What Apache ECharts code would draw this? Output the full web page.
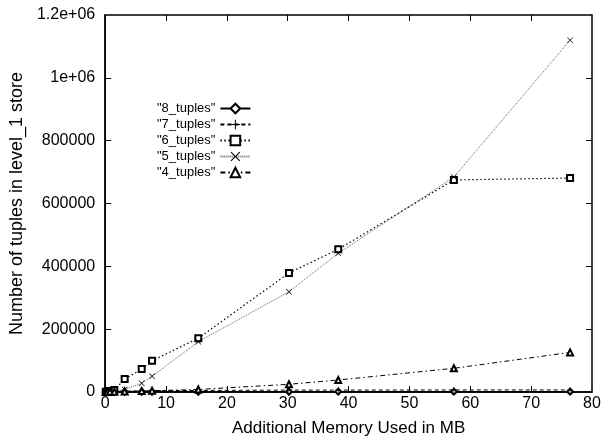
<!DOCTYPE html>
<html>
<head>
<meta charset="utf-8">
<script src="https://cdn.jsdelivr.net/npm/echarts@6/dist/echarts.min.js"></script>
<style>
html,body{margin:0;padding:0;background:#fff;}
#chart{width:609px;height:442px;}
</style>
</head>
<body>
<div id="chart"></div>
<script>
// Data
const memoryMB = [0.1, 0.2, 0.4, 0.8, 1.5, 3.2, 6.0, 7.7, 15.3, 30.2, 38.3, 57.3, 76.4];
const tuples8 = [50, 100, 200, 300, 400, 500, 600, 700, 800, 900, 1000, 1000, 1000];
const tuples7 = [100, 200, 400, 800, 1500, 2500, 3500, 4000, 5000, 6000, 6000, 6500, 6500];
const tuples6 = [300, 700, 1500, 3000, 6000, 41000, 73000, 99500, 171000, 379000, 454000, 675000, 681000];
const tuples5 = [200, 400, 800, 1500, 3000, 8000, 27700, 50000, 160000, 319000, 441500, 684000, 1120000];
const tuples4 = [100, 200, 300, 500, 800, 1500, 3000, 4000, 8000, 24500, 38200, 75400, 126000];
const seriesNames = ['"8_tuples"', '"7_tuples"', '"6_tuples"', '"5_tuples"', '"4_tuples"'];
const xTicks = [0, 10, 20, 30, 40, 50, 60, 70, 80];
const yTicks = [0, 200000, 400000, 600000, 800000, 1000000, 1200000];
const yTickLabels = ['0', '200000', '400000', '600000', '800000', '1e+06', '1.2e+06'];

const pairs = ys => memoryMB.map((x, i) => [x, ys[i]]);

const FONT = 'Liberation Sans';
const plusPath = 'path://M4.5,0H5.5V4.5H10V5.5H5.5V10H4.5V5.5H0V4.5H4.5Z';
const crossPath = 'path://M0,0.8L0.8,0L5,4.2L9.2,0L10,0.8L5.8,5L10,9.2L9.2,10L5,5.8L0.8,10L0,9.2L4.2,5Z';

const GRID = {left: 104, right: 17, top: 15, bottom: 50};
const W = 609, H = 442, TICK_PX = 6;
const X_MIN = xTicks[0], X_MAX = xTicks[xTicks.length - 1];
const Y_MIN = yTicks[0], Y_MAX = yTicks[yTicks.length - 1];
const tickDX = TICK_PX / (W - GRID.left - GRID.right) * (X_MAX - X_MIN);
const tickDY = TICK_PX / (H - GRID.top - GRID.bottom) * (Y_MAX - Y_MIN);

// inward tick marks on all four sides of the frame (gnuplot style)
const tickSegments = [];
xTicks.slice(1, -1).forEach(v => {
  tickSegments.push([{coord: [v, Y_MIN]}, {coord: [v, Y_MIN + tickDY]}]);
  tickSegments.push([{coord: [v, Y_MAX]}, {coord: [v, Y_MAX - tickDY]}]);
});
yTicks.slice(1, -1).forEach(v => {
  tickSegments.push([{coord: [X_MIN, v]}, {coord: [X_MIN + tickDX, v]}]);
  tickSegments.push([{coord: [X_MAX, v]}, {coord: [X_MAX - tickDX, v]}]);
});

const chart = echarts.init(document.getElementById('chart'), null, {renderer: 'canvas'});

const mkLine = () => ({show: true, onZero: false, lineStyle: {color: '#000', width: 1.5}});

function mkSeries(name, data, symbol, size, lineType, lineColor, width, bw) {
  return {
    name: name,
    type: 'line',
    data: data,
    symbol: symbol,
    symbolSize: size,
    symbolKeepAspect: true,
    showAllSymbol: true,
    lineStyle: {color: lineColor, width: width, type: lineType},
    itemStyle: {color: '#000', borderColor: '#000', borderWidth: bw},
    animation: false,
    z: 3
  };
}

const s8 = mkSeries(seriesNames[0], pairs(tuples8), 'emptyDiamond', 6, 'solid', '#000', 1.2, 1);
s8.markLine = {
  silent: true, animation: false, symbol: ['none', 'none'], precision: 6,
  label: {show: false},
  lineStyle: {color: '#000', width: 1, type: 'solid'},
  emphasis: {disabled: true},
  data: tickSegments
};

chart.setOption({
  animation: false,
  backgroundColor: '#fff',
  textStyle: {fontFamily: FONT, color: '#000'},
  grid: {left: GRID.left, right: GRID.right, top: GRID.top, bottom: GRID.bottom, containLabel: false,
    show: true, borderColor: '#000', borderWidth: 1.5, backgroundColor: 'transparent'},
  legend: {
    orient: 'vertical',
    left: 152,
    top: 97,
    align: 'right',
    itemWidth: 30,
    itemHeight: 12,
    itemGap: 3,
    textStyle: {fontFamily: FONT, fontSize: 13, lineHeight: 12, color: '#000'},
    data: seriesNames
  },
  xAxis: [{
    type: 'value', min: X_MIN, max: X_MAX, interval: 10,
    name: 'Additional Memory Used in MB',
    nameLocation: 'middle', nameGap: 28,
    nameTextStyle: {fontFamily: FONT, fontSize: 17, color: '#000'},
    axisLine: mkLine(), axisTick: {show: false},
    axisLabel: {fontFamily: FONT, fontSize: 16, color: '#000', margin: 4,
      formatter: v => (xTicks.indexOf(v) >= 0 ? String(v) : '')},
    splitLine: {show: false}
  }],
  yAxis: [{
    type: 'value', min: Y_MIN, max: Y_MAX, interval: 200000,
    name: 'Number of tuples in level_1 store',
    nameLocation: 'middle', nameGap: 76, nameRotate: 90,
    nameTextStyle: {fontFamily: FONT, fontSize: 18, color: '#000'},
    axisLine: mkLine(), axisTick: {show: false},
    axisLabel: {fontFamily: FONT, fontSize: 16, color: '#000', margin: 10,
      formatter: v => { const i = yTicks.indexOf(v); return i >= 0 ? yTickLabels[i] : ''; }},
    splitLine: {show: false}
  }],
  series: [
    s8,
    mkSeries(seriesNames[1], pairs(tuples7), plusPath, 6, [4, 3], '#000', 1, 0),
    mkSeries(seriesNames[2], pairs(tuples6), 'emptyRect', 6, [1.5, 2.5], '#000', 1.2, 1),
    mkSeries(seriesNames[3], pairs(tuples5), crossPath, 6, [1, 1], '#666', 1, 0),
    mkSeries(seriesNames[4], pairs(tuples4), 'emptyTriangle', 6, [5, 3, 1.5, 3], '#000', 1, 1)
  ]
});
</script>
</body>
</html>
